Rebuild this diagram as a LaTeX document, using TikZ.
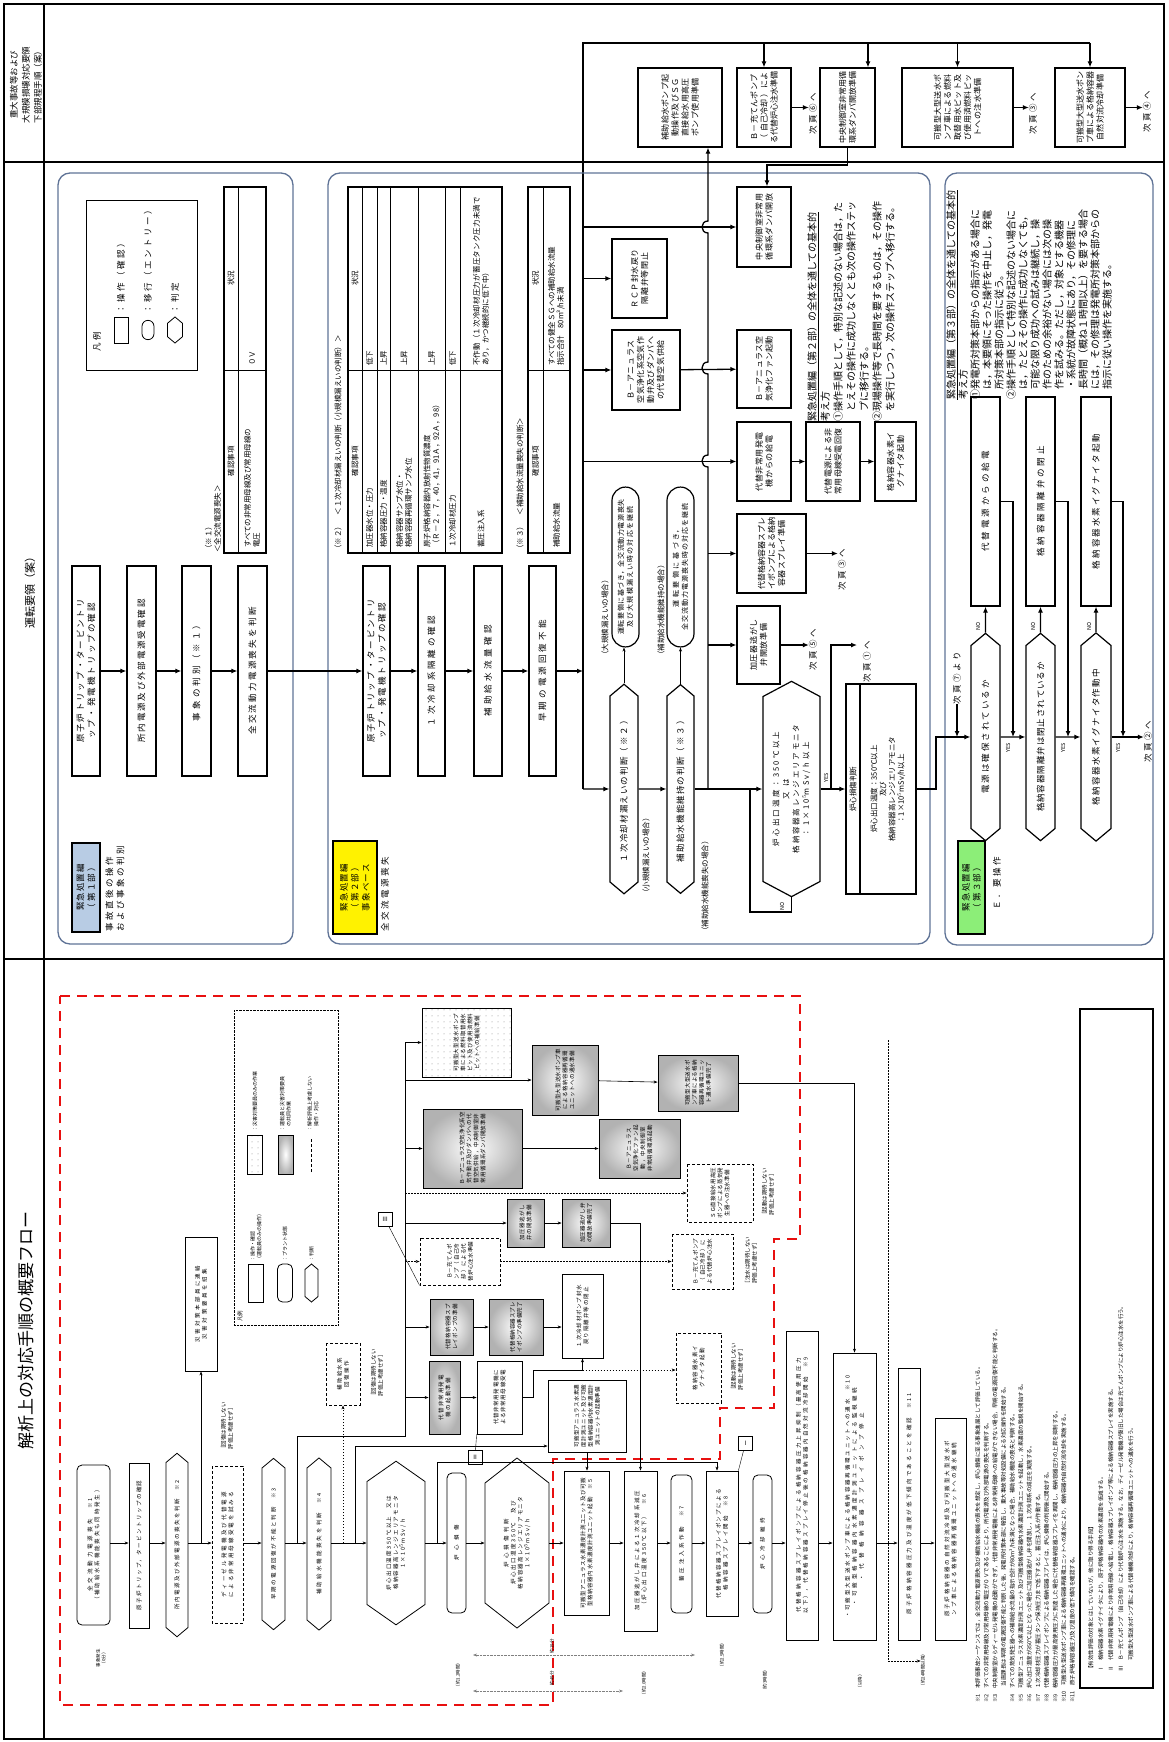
\documentclass[tikz,border=0pt]{standalone}
\usepackage{fontspec}
\newfontfamily\jp{Noto Sans CJK JP}
\newfontfamily\jpw[LetterSpace=30]{Noto Sans CJK JP}
\XeTeXlinebreaklocale "ja"
\XeTeXlinebreakskip=0pt plus 1pt
\usetikzlibrary{arrows.meta,shapes.misc,shapes.symbols,patterns.meta}
\definecolor{panelc}{RGB}{95,115,150}
\definecolor{lblue}{RGB}{184,204,228}
\definecolor{lgreen}{RGB}{140,238,120}
\definecolor{redd}{RGB}{232,16,16}
\newcommand{\jfs}[2]{\fontsize{#1}{#2}\selectfont}

\begin{document}
\begin{tikzpicture}[x=1pt, y=-1pt,
  every node/.style={font=\jpw\jfs{8.5}{11}},
  arr/.style={-{Latex[length=6pt,width=5pt]}, line width=1.3pt},
  tarr/.style={-{Stealth[length=4pt,width=3pt]}, semithick},
  darr/.style={tarr, dash pattern=on 1.5pt off 1.5pt},
  op/.style 2 args={draw, line width=1.2pt, rotate=90, align=center,
    text width=#1pt, minimum height=#2pt, inner xsep=2pt, inner ysep=1pt},
  sa/.style 2 args={op={#1}{#2}, font=\jpw\jfs{8}{10}},
  hx/.style 2 args={draw, line width=1.2pt, rotate=90, align=center, signal,
    signal to=east and west, signal pointer angle=100,
    text width=#1pt, minimum height=#2pt, inner xsep=1pt, inner ysep=1pt},
  pill/.style 2 args={draw, line width=1.2pt, rotate=90, align=center,
    rounded rectangle, text width=#1pt, minimum height=#2pt, inner sep=1pt,
    font=\jp\jfs{7}{9}},
  txt/.style={rotate=90, align=left, inner sep=0pt},
  ttxt/.style={txt, font=\jp\jfs{7.5}{9}},
  stxt/.style={txt, font=\jp\jfs{5.5}{7}},
  panel/.style={draw=panelc, line width=1.3pt, rounded corners=12pt},
  sop/.style 2 args={op={#1}{#2}, line width=0.8pt, font=\jpw\jfs{5.5}{7}},
  shx/.style 2 args={hx={#1}{#2}, line width=0.8pt, font=\jpw\jfs{5.5}{7}},
  plant/.style={rounded corners=5pt},
  grad/.style={inner color=white, outer color=gray!60},
  dotfill/.style={pattern={Dots[distance=6pt, radius=0.5pt]}, pattern color=gray},
  noeval/.style={dash pattern=on 3pt off 2pt},
  redline/.style={draw=redd, line width=2.6pt, dash pattern=on 10pt off 7pt}
]
\useasboundingbox (0,0) rectangle (1168,1742);
\draw[line width=1.4pt] (4,4) rectangle (1164,1739);
\draw[line width=1.4pt] (44,4) -- (44,1739);
\draw[line width=1.4pt] (4,162) -- (1164,162);
\draw[line width=1.4pt] (4,959) -- (1164,959);
\node[rotate=90, align=center, font=\jp\jfs{8.5}{12}] (hdsa) at (26,85) {重大事故等および\\大規模損壊対応要領\\下部規程手順（案）};
\node[rotate=90, font=\jp\jfs{11}{13}] (hdop) at (30,590) {運転要領（案）};
\node[rotate=90, font=\jp\jfs{17}{20}] (hdan) at (26,1330) {解析上の対応手順の概要フロー};

% SA procedures
\node[sa={75}{84}] (sa1) at (680,107.5) {補助給水ポンプ起動操作及びＳＧ直接給水用高圧ポンプ使用準備};
\node[sa={75}{54}] (sa2) at (764,107.5) {Ｂ－充てんポンプ（自己冷却）による代替炉心注水準備};
\node[sa={75}{55}] (sa3) at (847.5,107.5) {中央制御室非常用循環系ダンパ開放準備};
\node[sa={75}{111}] (sa4) at (957.5,107.5) {可搬型大型送水ポンプ車による燃料取替用水ピット及び使用済燃料ピットへの注水準備};
\node[sa={75}{70}] (sa5) at (1090,107.5) {可搬型大型送水ポンプ車による格納容器自然対流冷却準備};
\node[txt] (nx6) at (813,114) {次頁⑥へ};
\node[txt] (nx3b) at (1033,114) {次頁③へ};
\node[txt] (nx4) at (1147,112) {次頁④へ};
\coordinate (t0) at (583,43);
\coordinate (t1) at (583,789);
\coordinate (a3) at (868,43);
\draw[line width=1.3pt] (t1) -- (t0) -- (t0 -| sa5);
\draw[arr] (t0 -| sa2) -- (sa2);
\draw[arr] (a3) -- (a3 |- sa3.east);
\draw[arr] (t0 -| sa4) -- (sa4);
\draw[arr] (t0 -| sa5) -- (sa5);
\draw[arr] (sa2.south) -- (sa2.south -| nx6.north);
\draw[arr] (sa4.south) -- (sa4.south -| nx3b.north);
\draw[arr] (sa5.south) -- (sa5.south -| nx4.north);

% panel 1
\draw[panel] (58,173) rectangle (293,944);
\node[op={85}{28}, fill=lblue] (lb1) at (86,887.5) {緊急処置編\\（第１部）};
\node[txt, anchor=west] (lb1t) at (115,932) {事故直後の操作\\および事象の判別};
\node[draw, thick, rotate=90, minimum width=170, minimum height=111] (lg1) at (141.5,285) {};
\node[txt, anchor=west] (lg1t) at (97,352) {凡例};
\node[draw, thick, rotate=90, minimum width=26, minimum height=14] (lgr) at (121,330) {};
\node[txt, anchor=west] (lgrt) at (121,314) {：操作（確認）};
\node[draw, thick, rotate=90, rounded rectangle, minimum width=26, minimum height=12] (lge) at (148,330) {};
\node[txt, anchor=west] (lget) at (148,314) {：移行（エントリー）};
\node[draw, thick, rotate=90, signal, signal to=east and west, signal pointer angle=100, minimum width=26, minimum height=15] (lgj) at (175,330) {};
\node[txt, anchor=west] (lgjt) at (175,314) {：判定};
\draw[line width=1.2pt] (224,187) rectangle (266,553);
\draw[semithick] (238,187) -- (238,553) (224,370) -- (266,370);
\node[ttxt] (t1h1) at (231,278) {状況};
\node[ttxt] (t1h2) at (231,461) {確認事項};
\node[ttxt, anchor=west] (t1a) at (252,548) {すべての非常用母線及び常用母線の\\電圧};
\node[ttxt, anchor=west] (t1as) at (252,366) {０Ｖ};
\node[ttxt, anchor=west] (t1t) at (213,553) {（※１）\\＜全交流電源喪失＞};
\node[op={206}{28}] (p1a) at (86,671) {原子炉トリップ・タービントリップ・発電機トリップの確認};
\node[op={206}{29}] (p1b) at (141.5,671) {所内電源及び外部電源受電確認};
\node[op={206}{29}] (p1c) at (196.5,671) {事象の判別（※１）};
\node[op={206}{29}] (p1d) at (252.5,671) {全交流動力電源喪失を判断};
\draw[arr] (p1a) -- (p1b);
\draw[arr] (p1b) -- (p1c);
\draw[arr] (p1c) -- (p1d);

% panel 2
\draw[panel] (328,173) rectangle (930,944);
\node[op={89}{44}, fill=yellow] (lb2) at (355,887.5) {緊急処置編\\（第２部）\\事象ベース};
\node[txt, anchor=west] (lb2t) at (385,932) {全交流電源喪失};
\node[op={206}{27}] (p2a) at (376.5,671) {原子炉トリップ・タービントリップ・発電機トリップの確認};
\node[op={206}{27}] (p2b) at (431.5,671) {１次冷却系隔離の確認};
\node[op={206}{28}] (p2c) at (488,671) {補助給水流量確認};
\node[op={206}{27}] (p2d) at (542.5,671) {早期の電源回復不能};
\draw[arr] (p1d) -- (p2a);
\draw[arr] (p2a) -- (p2b);
\draw[arr] (p2b) -- (p2c);
\draw[arr] (p2c) -- (p2d);
\draw[arr] (p2d) -- (p2d -| t0);

\node[ttxt, anchor=west] (t2t) at (338,553) {（※２）　＜１次冷却材漏えいの判断（小規模漏えいの判断）＞};
\draw[line width=1.2pt] (348,187) rectangle (502,553);
\draw[semithick] (362,187) -- (362,553) (377,187) -- (377,553) (390,187) -- (390,553)
  (418,187) -- (418,553) (445,187) -- (445,553) (460,187) -- (460,553) (348,370) -- (502,370);
\node[ttxt] (t2h1) at (355,278) {状況};
\node[ttxt] (t2h2) at (355,461) {確認事項};
\node[ttxt, anchor=west] (t2a) at (369.5,548) {加圧器水位・圧力};
\node[ttxt, anchor=west] (t2as) at (369.5,366) {低下};
\node[ttxt, anchor=west] (t2b) at (383.5,548) {格納容器圧力・温度};
\node[ttxt, anchor=west] (t2bs) at (383.5,366) {上昇};
\node[ttxt, anchor=west] (t2c) at (404,548) {格納容器サンプ水位・\\格納容器再循環サンプ水位};
\node[ttxt, anchor=west] (t2cs) at (404,366) {上昇};
\node[ttxt, anchor=west] (t2d) at (431.5,548) {原子炉格納容器内放射性物質濃度\\（Ｒ－２，７，40，41，91Ａ，92Ａ，98）};
\node[ttxt, anchor=west] (t2ds) at (431.5,366) {上昇};
\node[ttxt, anchor=west] (t2e) at (452.5,548) {１次冷却材圧力};
\node[ttxt, anchor=west] (t2es) at (452.5,366) {低下};
\node[ttxt, anchor=west] (t2f) at (481,548) {蓄圧注入系};
\node[ttxt, anchor=west, text width=172pt] (t2fs) at (481,366) {不作動（１次冷却材圧力が蓄圧タンク圧力未満であり，かつ継続的に低下中）};

\node[ttxt, anchor=west] (t3t) at (520,553) {（※３）　＜補助給水流量喪失の判断＞};
\draw[line width=1.2pt] (528,187) rectangle (570,553);
\draw[semithick] (543,187) -- (543,553) (528,370) -- (570,370);
\node[ttxt] (t3h1) at (535.5,278) {状況};
\node[ttxt] (t3h2) at (535.5,461) {確認事項};
\node[ttxt, anchor=west] (t3a) at (556.5,548) {補助給水流量};
\node[ttxt, anchor=west] (t3as) at (556.5,366) {すべての健全ＳＧへの補助給水流量\\指示合計　80m³/h未満};

\node[hx={184}{28}] (hb1) at (624,789) {１次冷却材漏えいの判断（※２）};
\node[hx={184}{27}] (hb2) at (680.5,789) {補助給水機能維持の判断（※３）};
\node[pill={153}{27}] (ob1) at (625.5,567) {運転要領に基づき，全交流動力電源喪失\\及び大規模漏えい時の対応を継続};
\node[pill={153}{27}] (ob2) at (680.5,567) {運転要領に基づき，\\全交流動力電源喪失時の対応を継続};
\node[ttxt, anchor=west] (ob1t) at (605,659) {（大規模漏えいの場合）};
\node[ttxt, anchor=west] (ob2t) at (661,659) {（補助給水機能維持の場合）};
\node[ttxt, anchor=west] (hb1t) at (646,897) {（小規模漏えいの場合）};
\node[ttxt, anchor=west] (hb2t) at (705,935) {（補助給水機能喪失の場合）};
\draw[arr] (t1) -- (hb1);
\draw[arr] (hb1) -- (hb2);
\draw[tarr] (hb1.east) -- (hb1.east |- ob1.west);
\draw[tarr] (hb2.east) -- (hb2.east |- ob2.west);

\node[sa={76}{54}] (cr) at (764,227) {中央制御室非常用循環系ダンパ開放};
\node[sa={75}{55}] (rcp) at (639.5,278.5) {ＲＣＰ封水戻り隔離弁等閉止};
\node[sa={76}{68}] (ba1) at (646,370) {Ｂ－アニュラス空気浄化系空気作動弁及びダンパへの代替空気供給};
\node[sa={74}{54}] (ba2) at (764,369) {Ｂ－アニュラス空気浄化ファン起動};
\node[sa={75}{54}] (dg) at (764,461.5) {代替非常用発電機からの給電};
\node[sa={75}{54}] (rec) at (833,461.5) {代替電源による非常用母線受電回復};
\node[sa={75}{41}] (ig) at (895.5,461.5) {格納容器水素イグナイタ起動};
\node[sa={75}{69}] (sp) at (771.5,553.5) {代替格納容器スプレイポンプによる格納容器スプレイ準備};
\node[sa={74}{43}] (pz) at (758.5,645) {加圧器逃がし弁開放準備};
\node[txt] (nx3) at (842,570) {次頁③へ};
\node[txt] (nx5) at (813,650) {次頁⑤へ};
\node[txt] (nx1) at (867,662) {次頁①へ};
\draw[arr] (t0 |- cr) -- (cr);
\draw[arr] (t0 |- rcp) -- (rcp);
\draw[arr] (t0 |- ba1) -- (ba1);
\draw[arr] (ba1) -- (ba2);
\draw[arr] (t0 |- dg) -- (dg);
\draw[arr] (dg) -- (rec);
\draw[arr] (rec) -- (ig);
\coordinate (v0) at (708,789);
\coordinate (c3a) at (767,165);
\draw[arr] (sa3.west) |- (c3a) -- (c3a |- cr.east);
\draw[arr] (v0) -- (708,467) .. controls (700,467) and (700,455) .. (708,455)
  -- (708,374) .. controls (700,374) and (700,362) .. (708,362)
  -- (708,233) .. controls (700,233) and (700,221) .. (708,221) -- (v0 |- sa1.west);
\draw[arr] (v0 |- sp) -- (sp);
\draw[arr] (v0 |- pz) -- (pz);
\draw[arr] (sp) -- (sp -| nx3.north);
\draw[arr] (pz) -- (pz -| nx5.north);

\node[hx={183}{57}, signal pointer angle=124, font=\jpw\jfs{7.5}{10}] (hL) at (791.5,789) {炉心出口温度：350℃以上\\又は\\格納容器高レンジエリアモニタ\\：1×10$^{5}$mSv/h以上};
\draw[arr] (hb2.south) -- (hb2.south -| hL.north);
\coordinate (lp) at (750,789);
\coordinate (lq) at (750,912);
\draw[line width=1.3pt] (hL.west) |- (lq) -- (lp);
\node[stxt] (hLno) at (782,906) {NO};
\node[draw, line width=1.2pt, rotate=90, minimum width=210, minimum height=70, inner sep=0pt] (tb) at (881,789) {};
\draw[line width=1.2pt] (860,684) -- (860,894);
\node[ttxt] (tbh) at (853,789) {炉心損傷判断};
\node[ttxt, align=center] (tbc) at (888,789) {炉心出口温度：350℃以上\\及び\\格納容器高レンジエリアモニタ\\：1×10$^{5}$mSv/h以上};
\coordinate (j1) at (831,789);
\coordinate (j1b) at (857,645);
\draw[arr] (hL.south) -- (hL.south -| tb.north);
\draw[arr] (j1) |- (j1b);
\node[stxt] (hLyes) at (826,778) {YES};
\node[txt, anchor=north west, font=\jp\jfs{10}{13}] (pt2) at (807,422) {\underline{緊急処置編（第２部）の全体を通しての基本的}\\考え方\\①操作手順として，特別な記述のない場合は，た\\　とえその操作に成功しなくとも次の操作ステッ\\　プに移行する。\\②現場操作等で長時間を要するものは，その操作\\　を実行しつつ，次の操作ステップへ移行する。};

% panel 3
\draw[panel] (945,173) rectangle (1153,945);
\node[op={89}{27}, fill=lgreen] (lb3) at (971.5,887.5) {緊急処置編\\（第３部）};
\node[txt, anchor=west] (lb3t) at (997,910) {Ｅ．要操作};
\node[txt, anchor=north west, font=\jp\jfs{10}{12}] (pt3) at (946,400) {\underline{緊急処置編（第３部）の全体を通しての基本的}\\考え方\\①発電所対策本部からの指示がある場合に\\　は，本要領にそった操作を中止し，発電\\　所対策本部の指示に従う。\\②操作手順として特別な記述のない場合に\\　は，たとえその操作に成功しなくても，\\　可能な限り成功への試みは継続し，操\\　作のための余裕がない場合には次の操\\　作を試みる。ただし，対象とする機器\\　・系統が故障状態にあり，その修理に\\　長時間（概ね１時間以上）を要する場合\\　には，その修理は発電所対策本部からの\\　指示に従い操作を実施する。};
\node[hx={181}{29}] (hA) at (985.5,737) {電源は確保されているか};
\node[hx={181}{29}] (hB) at (1040.5,737) {格納容器隔離弁は閉止されているか};
\node[hx={181}{30}] (hC) at (1096,737) {格納容器水素イグナイタ作動中};
\node[op={205}{29}] (bA) at (985.5,501.5) {代替電源からの給電};
\node[op={205}{29}] (bB) at (1040.5,501.5) {格納容器隔離弁の閉止};
\node[op={205}{30}] (bC) at (1096,501.5) {格納容器水素イグナイタ起動};
\node[txt] (nx7) at (957,678) {次頁⑦より};
\node[txt] (nx2) at (1148,742) {次頁②へ};
\coordinate (j7) at (936,789);
\draw[arr] (tb.south) -- (j7) |- (hA);
\draw[arr] (nx7.west) -- (nx7.west |- hA);
\draw[arr] (hA) -- (bA);
\draw[arr] (hB) -- (bB);
\draw[arr] (hC) -- (bC);
\draw[arr] (hA) -- (hB);
\draw[arr] (hB) -- (hC);
\draw[arr] (hC.south) -- (hC.south -| nx2.north);
\coordinate (rA) at (1013,737);
\coordinate (rB) at (1068,737);
\coordinate (rC) at (1123,737);
\draw[arr] (bA.south) -| (rA);
\draw[arr] (bB.south) -| (rB);
\draw[arr] (bC.south) -| (rC);
\node[stxt] (noA) at (978,626) {NO};
\node[stxt] (noB) at (1033,626) {NO};
\node[stxt] (noC) at (1089,626) {NO};
\node[stxt] (yesA) at (1008,748) {YES};
\node[stxt] (yesB) at (1063,748) {YES};
\node[stxt] (yesC) at (1118,748) {YES};

% analysis flow
\draw[redline] (60,996) -- (800,996) -- (800,1239) -- (774,1239) -- (774,1408) -- (720,1408)
  -- (720,1459) -- (553,1459) -- (553,1705) -- (60,1705) -- cycle;
\coordinate (fl) at (0,1543);
\node[sop={156}{33}, plant] (c1) at (93.5,1545) {全交流動力電源喪失　※1\\（補助給水系機能喪失も同時発生）};
\node[sop={161}{20}] (c2) at (139,1545.5) {原子炉トリップ，タービントリップの確認};
\node[shx={163}{22}] (c3) at (177,1545) {所内電源及び外部電源の喪失を判断　※2};
\node[sop={153}{31}, noeval] (c4) at (227.5,1544.5) {ディーゼル発電機及び代替電源\\による非常用母線受電を試みる};
\node[shx={150}{23}] (c5) at (273.5,1544) {早期の電源回復が不能と判断　※3};
\node[shx={150}{24}] (c6) at (319,1544) {補助給水機能喪失を判断　※4};
\node[shx={121}{58}, signal pointer angle=110] (c7) at (396,1543) {炉心出口温度350℃以上　又は\\格納容器高レンジエリアモニタ\\1×10$^{5}$mSv/h};
\node[sop={136}{19}, plant] (c8) at (456.5,1543) {炉心損傷};
\node[shx={118}{64}, signal pointer angle=104] (c9) at (517,1543) {炉心損傷判断\\炉心出口温度350℃　及び\\格納容器高レンジエリアモニタ\\1×10$^{5}$mSv/h};
\node[sop={140}{45}] (c10) at (586.5,1543) {可搬型アニュラス水素濃度計測ユニット及び可搬型格納容器内水素濃度計測ユニット起動　※5};
\node[sop={156}{33}] (c11) at (640.5,1551) {加圧器逃がし弁による１次冷却系減圧\\（炉心出口温度350℃以下）　※6};
\node[sop={134}{21}, plant] (c12) at (681.5,1544) {蓄圧注入系作動　※7};
\node[sop={141}{32}] (c13) at (722,1543.5) {代替格納容器スプレイポンプによる\\格納容器スプレイ開始　※8};
\node[sop={134}{19}, plant] (c14) at (762.5,1544) {炉心冷却維持};
\node[sop={305}{32}] (c15) at (802,1485.5) {代替格納容器スプレイポンプによる格納容器圧力上昇抑制（最高使用圧力以下），代替格納容器スプレイ停止後の格納容器内自然対流冷却開始　※9};
\node[sop={283}{43}] (c16) at (854.5,1496.5) {・可搬型大型送水ポンプ車による格納容器再循環ユニットへの通水　※10\\・可搬型格納容器内水素濃度計測ユニットによる監視継続\\・代替格納容器スプレイポンプ停止};
\node[sop={268}{22}] (c17) at (909,1504) {原子炉格納容器圧力及び温度が低下傾向であることを確認　※11};
\node[sop={218}{31}] (c18) at (950.5,1529) {原子炉格納容器の自然対流冷却及び可搬型大型送水ポンプ車による格納容器再循環ユニットへの通水継続};
\draw[tarr] (c1.south |- fl) -- (fl -| c2.north);
\draw[tarr] (c2.south |- fl) -- (fl -| c3.north);
\draw[tarr] (c3.south |- fl) -- (fl -| c4.north);
\draw[tarr] (c4.south |- fl) -- (fl -| c5.north);
\draw[tarr] (c5.south |- fl) -- (fl -| c6.north);
\draw[tarr] (c6.south |- fl) -- (fl -| c7.north);
\draw[tarr] (c7.south |- fl) -- (fl -| c8.north);
\draw[tarr] (c8.south |- fl) -- (fl -| c9.north);
\draw[tarr] (c9.south |- fl) -- (fl -| c10.north);
\draw[tarr] (c10.south |- fl) -- (fl -| c11.north);
\draw[tarr] (c11.south |- fl) -- (fl -| c12.north);
\draw[tarr] (c12.south |- fl) -- (fl -| c13.north);
\draw[tarr] (c13.south |- fl) -- (fl -| c14.north);
\draw[tarr] (c14.south |- fl) -- (fl -| c15.north);
\draw[tarr] (c15.south |- fl) -- (fl -| c16.north);
\draw[tarr] (c16.south |- fl) -- (fl -| c17.north);
\draw[tarr] (c17.south |- fl) -- (fl -| c18.north);

\node[sop={130}{32}] (s1) at (201,1304) {災害対策本部員に連絡\\災害対策要員を招集};
\node[stxt, align=center] (s2) at (227,1427) {［回復は期待しない\\評価上考慮せず］};
\node[sop={58}{34}, noeval] (s3) at (343,1374) {補助給水系\\回復操作};
\node[stxt, align=center] (s4) at (377,1374) {［回復は期待しない\\評価上考慮せず］};
\draw[tarr] (s1 |- fl) -- (s1);
\draw[darr] (s3 |- fl) -- (s3);

\node[draw, densely dotted, rotate=90, minimum width=315, minimum height=104] (lg2) at (286,1167.5) {};
\node[stxt, anchor=west] (lg2t) at (240,1322) {凡例};
\node[draw, thick, rotate=90, minimum width=38, minimum height=15] (lgc1) at (255.5,1283) {};
\node[stxt, anchor=west, font=\jp\jfs{5}{6.5}] (lgc1t) at (256,1262) {：操作・確認\\（運転員のみの操作）};
\node[draw, thick, rotate=90, plant, minimum width=38, minimum height=15] (lgc2) at (285,1283) {};
\node[stxt, anchor=west, font=\jp\jfs{5}{6.5}] (lgc2t) at (285,1262) {：プラント状態};
\node[draw, thick, rotate=90, signal, signal to=east and west, signal pointer angle=100, minimum width=38, minimum height=13] (lgc3) at (311.5,1283) {};
\node[stxt, anchor=west, font=\jp\jfs{5}{6.5}] (lgc3t) at (311.5,1262) {：判断};
\node[draw, thin, rotate=90, dotfill, minimum width=39, minimum height=15] (lgc4) at (254.5,1154.5) {};
\node[stxt, anchor=west, font=\jp\jfs{5}{6.5}] (lgc4t) at (255,1132) {：災害対策要員のみの作業};
\node[draw, thin, rotate=90, grad, minimum width=39, minimum height=15] (lgc5) at (285.5,1154.5) {};
\node[stxt, anchor=west, font=\jp\jfs{5}{6.5}] (lgc5t) at (285.5,1132) {：運転員と災害対策要員\\　の共同作業};
\draw[thick, noeval] (311,1172) -- (311,1138);
\node[stxt, anchor=west, font=\jp\jfs{5}{6.5}] (lgc6t) at (313,1132) {：解析評価上考慮しない\\　操作・対応};

\node[sop={65}{89}, dotfill] (g1) at (466.5,1042.5) {可搬型大型送水ポンプ車による燃料取替用水ピット及び使用済燃料ピットへの補給準備};
\node[sop={66}{66}, grad] (g2) at (565,1080) {可搬型大型送水ポンプ車による格納容器再循環ユニットへの通水準備};
\node[sop={52}{80}, grad] (g3) at (698,1083) {可搬型大型送水ポンプ車による格納容器再循環ユニット通水準備完了};
\node[sop={75}{99}, grad] (g4) at (472.5,1148.5) {Ｂ－アニュラス空気浄化系空気作動弁及びダンパへの代替空気供給，中央制御室非常用循環系ダンパ開放準備};
\node[sop={55}{81}, grad] (g5) at (639.5,1148.5) {Ｂ－アニュラス空気浄化ファン起動，中央制御室非常用循環系起動};
\node[sop={54}{66}, noeval] (d1) at (720,1193) {ＳＧ直接給水用高圧ポンプによる蒸気発生器への注水準備};
\node[stxt, align=center] (d1t) at (768,1193) {［起動は期待しない\\評価上考慮せず］};
\node[sop={44}{37}, grad] (g6) at (525.5,1223) {加圧器逃がし弁の開放準備};
\node[sop={44}{48}, grad] (g7) at (586,1223) {加圧器逃がし弁の開放準備完了};
\node[sop={43}{80}, noeval] (d2) at (460,1261.5) {Ｂ－充てんポンプ（自己冷却）による代替炉心注水準備};
\node[sop={51}{61}, noeval] (d3) at (702.5,1261.5) {Ｂ－充てんポンプ（自己冷却）による代替炉心注水};
\node[stxt, align=center] (d3t) at (751,1261.5) {［注水は期待しない\\評価上考慮せず］};
\node[sop={80}{41}] (w1) at (582.5,1316) {１次冷却材ポンプ封水戻り隔離弁等の閉止};
\node[sop={52}{43}, grad] (g8) at (451.5,1327) {代替格納容器スプレイポンプの準備};
\node[sop={52}{54}, grad] (g9) at (516,1327) {代替格納容器スプレイポンプの準備完了};
\node[sop={69}{31}, grad] (g10) at (444.5,1397.5) {代替非常用発電機の起動準備};
\node[sop={69}{45}] (w2) at (499.5,1397.5) {代替非常用発電機による非常用母線受電};
\node[sop={68}{78}] (w3) at (587,1416) {可搬型アニュラス水素濃度計測ユニット及び可搬型格納容器内水素濃度計測ユニットの起動準備};
\node[sop={66}{45}, noeval] (d4) at (698.5,1368) {格納容器水素イグナイタ起動};
\node[stxt, align=center] (d4t) at (737,1368) {［起動は期待しない\\評価上考慮せず］};
\node[draw, thin, font=\jp\jfs{6}{7}, minimum size=14pt, inner sep=1pt] (tg1) at (745.5,1443) {Ⅰ};
\node[draw, thin, font=\jp\jfs{6}{7}, minimum size=14pt, inner sep=1pt] (tg2) at (475,1457.5) {Ⅱ};
\node[draw, thin, font=\jp\jfs{6}{7}, minimum size=14pt, inner sep=1pt] (tg3) at (385,1219) {Ⅲ};

\coordinate (k1) at (297,1436);
\coordinate (k2) at (405,1436);
\coordinate (k3) at (355,1446);
\coordinate (k5) at (437,1462);
\coordinate (k6) at (717,1462);
\coordinate (k7) at (533,1370);
\draw[semithick] (k1 |- fl) -- (k1) -- (k2) -- (k2 |- g1);
\draw[tarr] (k2 |- g1) -- (g1);
\draw[tarr] (k2 |- g2) -- (g2);
\draw[tarr] (g2) -- (g3);
\draw[tarr] (g3.south) -| (c16);
\draw[tarr] (k2 |- g4) -- (g4);
\draw[tarr] (g4) -- (g5);
\draw[darr] (k2 |- d1) -- (d1);
\draw[tarr] (k2 |- g6) -- (g6);
\draw[tarr] (g6) -- (g7);
\draw[tarr] (g7.south) -| (c11);
\draw[darr] (k2 |- d2) -- (d2);
\draw[darr] (d2) -- (d3);
\draw[tarr] (k2 |- g8) -- (g8);
\draw[tarr] (g8) -- (g9);
\draw[tarr] (g9.south) -- (g9.south -| w1.north);
\draw[tarr] (k2 |- g10) -- (g10);
\draw[tarr] (g10) -- (w2);
\draw[tarr] (w2.south) -| (k7) -| (w1);
\draw[darr] (k7 -| w1) -- (k7 -| d4.north);
\draw[tarr] (k3 |- fl) -- (k3) -- (k3 -| w3.north);
\draw[tarr] (w3.west) -- (w3.west |- c10.east);
\draw[tarr] (k5 |- fl) -- (k5) -- (k6) -- (k6 |- c13.east);
\draw[thin] (tg1) -- (c13.south east);
\draw[thin] (tg2) -- (w2.north west);
\draw[thin] (tg3) -- (d2.north west);

\draw[{Stealth[length=4pt]}-{Stealth[length=4pt]}, densely dotted, gray] (473,1655) -- (695,1655);
\draw[{Stealth[length=4pt]}-{Stealth[length=4pt]}, densely dotted, gray] (473,1691) -- (623,1691);
\node[stxt, align=center, font=\jp\jfs{4.5}{5.5}] (tm0) at (101,1658) {事象発生\\（0分）};
\node[stxt, font=\jp\jfs{4.5}{5.5}] (tm1) at (458,1675) {（約1.2時間）};
\node[stxt, font=\jp\jfs{4.5}{5.5}] (tm2) at (552,1646) {約19分};
\node[stxt, font=\jp\jfs{4.5}{5.5}] (tm3) at (552,1678) {約49分};
\node[stxt, font=\jp\jfs{4.5}{5.5}] (tm4) at (644,1683) {（約2.0時間）};
\node[stxt, font=\jp\jfs{4.5}{5.5}] (tm5) at (722,1655) {（約2.5時間）};
\node[stxt, font=\jp\jfs{4.5}{5.5}] (tm6) at (765,1680) {（約3時間）};
\node[stxt, font=\jp\jfs{4.5}{5.5}] (tm7) at (860,1681) {（以降）};
\node[stxt, font=\jp\jfs{4.5}{5.5}] (tm8) at (923,1670) {（約24時間以降）};
\coordinate (dv0) at (888,1040);
\coordinate (dv1) at (888,1661);
\draw[darr] (dv0) -- (dv1) -- (dv1 -| tm8.north);

\node[txt, anchor=north west, text width=690pt, font=\jp\jfs{5.5}{8.6}] (nts) at (975,1703) {※1　本評価事故シーケンスでは，全交流動力電源喪失及び補助給水機能の喪失を想定し，炉心損傷に至る事象進展として評価している。\\※2　すべての非常用母線及び常用母線の電圧が０Ｖであることにより，所内電源及び外部電源の喪失を判断する。\\※3　中央制御室からディーゼル発電機の起動ができず，代替非常用発電機による非常用母線への給電ができない場合，早期の電源回復不能と判断する。\\　　　当直課長は早期の電源回復不能と判断した後，発電所対策本部に報告し，重大事故等対処設備による対応操作を開始する。\\※4　すべての蒸気発生器への補助給水流量の指示合計が80m³/h未満となった場合，補助給水機能の喪失と判断する。\\※5　可搬型アニュラス水素濃度計測ユニット及び可搬型格納容器内水素濃度計測ユニットを起動し，水素濃度の監視を開始する。\\※6　炉心出口温度が350℃以上となった場合に加圧器逃がし弁を開放し，１次冷却系の減圧を実施する。\\※7　１次冷却材圧力が蓄圧タンク保持圧力まで低下すると，蓄圧注入系が作動する。\\※8　代替格納容器スプレイポンプによる格納容器スプレイは，炉心損傷の判断後に開始する。\\※9　格納容器圧力が最高使用圧力に到達した場合に代替格納容器スプレイを再開し，格納容器圧力の上昇を抑制する。\\※10　可搬型大型送水ポンプ車による格納容器再循環ユニットへの通水により，格納容器内自然対流冷却を実施する。\\※11　原子炉格納容器圧力及び温度の低下傾向を確認する。};
\node[draw, line width=1.2pt, rotate=90, minimum width=679, minimum height=73] (fn) at (1116.5,1348.5) {};
\node[txt, anchor=north west, text width=640pt, font=\jp\jfs{5.5}{10}] (fnt) at (1088,1672) {【有効性評価の対象とはしていないが，他に取り得る手段】\\Ⅰ　格納容器水素イグナイタにより，原子炉格納容器内の水素濃度を低減する。\\Ⅱ　代替非常用発電機により非常用母線へ給電し，格納容器スプレイポンプ等による格納容器スプレイを実施する。\\Ⅲ　Ｂ－充てんポンプ（自己冷却）により代替炉心注水を実施する。なお，ディーゼル発電機が復旧した場合は充てんポンプにより炉心注水を行う。\\　　可搬型大型送水ポンプ車による代替補機冷却により，格納容器再循環ユニットへの通水を行う。};
\end{tikzpicture}
\end{document}
